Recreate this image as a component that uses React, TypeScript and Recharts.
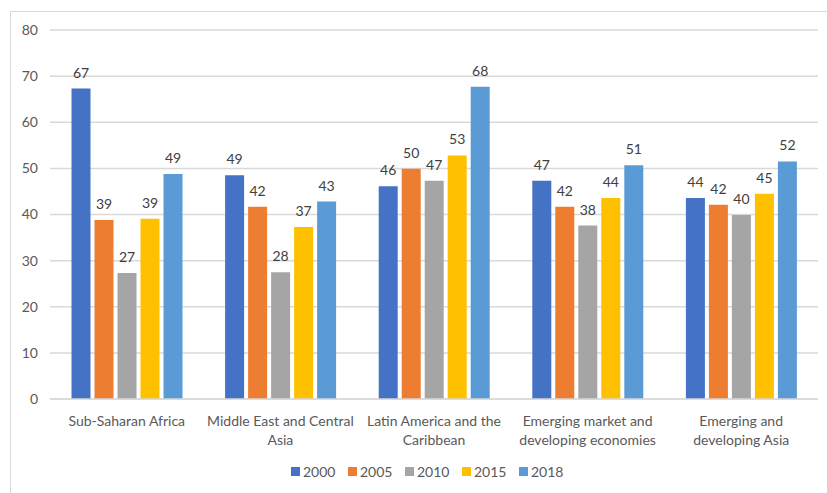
import { BarChart, Bar, XAxis, YAxis, CartesianGrid, LabelList } from "recharts";

const regions = [
  "Sub-Saharan Africa",
  "Middle East and Central\nAsia",
  "Latin America and the\nCaribbean",
  "Emerging market and\ndeveloping economies",
  "Emerging and\ndeveloping Asia"
];

const v2000 = [67.3, 48.5, 46.1, 47.3, 43.6];
const v2005 = [38.8, 41.7, 49.9, 41.7, 42.1];
const v2010 = [27.3, 27.5, 47.3, 37.6, 39.9];
const v2015 = [39.1, 37.3, 52.8, 43.6, 44.5];
const v2018 = [48.8, 42.8, 67.7, 50.7, 51.5];

const years = ["2000", "2005", "2010", "2015", "2018"];
const colors = ["#4472C4", "#ED7D31", "#A5A5A5", "#FFC000", "#5B9BD5"];
const yTicks = [0, 10, 20, 30, 40, 50, 60, 70, 80];

const data = regions.map((r, i) => ({
  name: r,
  "2000": v2000[i],
  "2005": v2005[i],
  "2010": v2010[i],
  "2015": v2015[i],
  "2018": v2018[i]
}));

const font = "Lato, 'Liberation Sans', sans-serif";

// two-line category labels like excel
function RegionTick(props: any) {
  const { x, y, payload } = props;
  const lines = String(payload.value).split("\n");
  return (
    <text x={x} y={y} textAnchor="middle" fill="#595959" fontSize={14} fontFamily={font}>
      {lines.map((l, i) => (
        <tspan key={i} x={x} dy={i === 0 ? 27 : 18.5}>{l}</tspan>
      ))}
    </text>
  );
}

export default function App() {
  return (
    <div style={{ position: "absolute", left: 0, top: 0, width: 827, height: 493, background: "#fff", overflow: "hidden" }}>
      <div style={{
        position: "absolute",
        left: 10,
        top: 11,
        width: 840,
        height: 520,
        border: "1px solid #d9d9d9"
      }} />
      <BarChart
        width={827}
        height={493}
        data={data}
        margin={{ top: 30, right: 9, bottom: 44, left: 0 }}
        barCategoryGap="14%"
        barGap={4}
      >
        <CartesianGrid vertical={false} stroke="#d9d9d9" strokeWidth={1.5} />
        <XAxis
          dataKey="name"
          height={50}
          tick={<RegionTick />}
          tickLine={false}
          axisLine={{ stroke: "#d9d9d9", strokeWidth: 1.5 }}
          tickSize={0}
          tickMargin={0}
          interval={0}
        />
        <YAxis
          width={50}
          domain={[0, 80]}
          ticks={yTicks}
          axisLine={false}
          tickLine={false}
          tickSize={0}
          tickMargin={12}
          tick={{ fill: "#595959", fontSize: 14, fontFamily: font }}
        />
        {years.map((yr, i) => (
          <Bar key={yr} dataKey={yr} fill={colors[i]} isAnimationActive={false}>
            <LabelList
              dataKey={yr}
              position="top"
              offset={11}
              formatter={(v: any) => Math.round(Number(v))}
              style={{ fill: "#404040", fontSize: 14, fontFamily: font }}
            />
          </Bar>
        ))}
      </BarChart>
      <div style={{
        position: "absolute",
        left: 291,
        top: 463,
        display: "flex",
        fontFamily: font,
        fontSize: 14,
        color: "#595959"
      }}>
        {years.map((yr, i) => (
          <div key={yr} style={{ display: "flex", alignItems: "center", width: 57 }}>
            <span style={{ width: 9, height: 9, background: colors[i], marginRight: 3, display: "inline-block" }} />
            <span>{yr}</span>
          </div>
        ))}
      </div>
    </div>
  );
}
